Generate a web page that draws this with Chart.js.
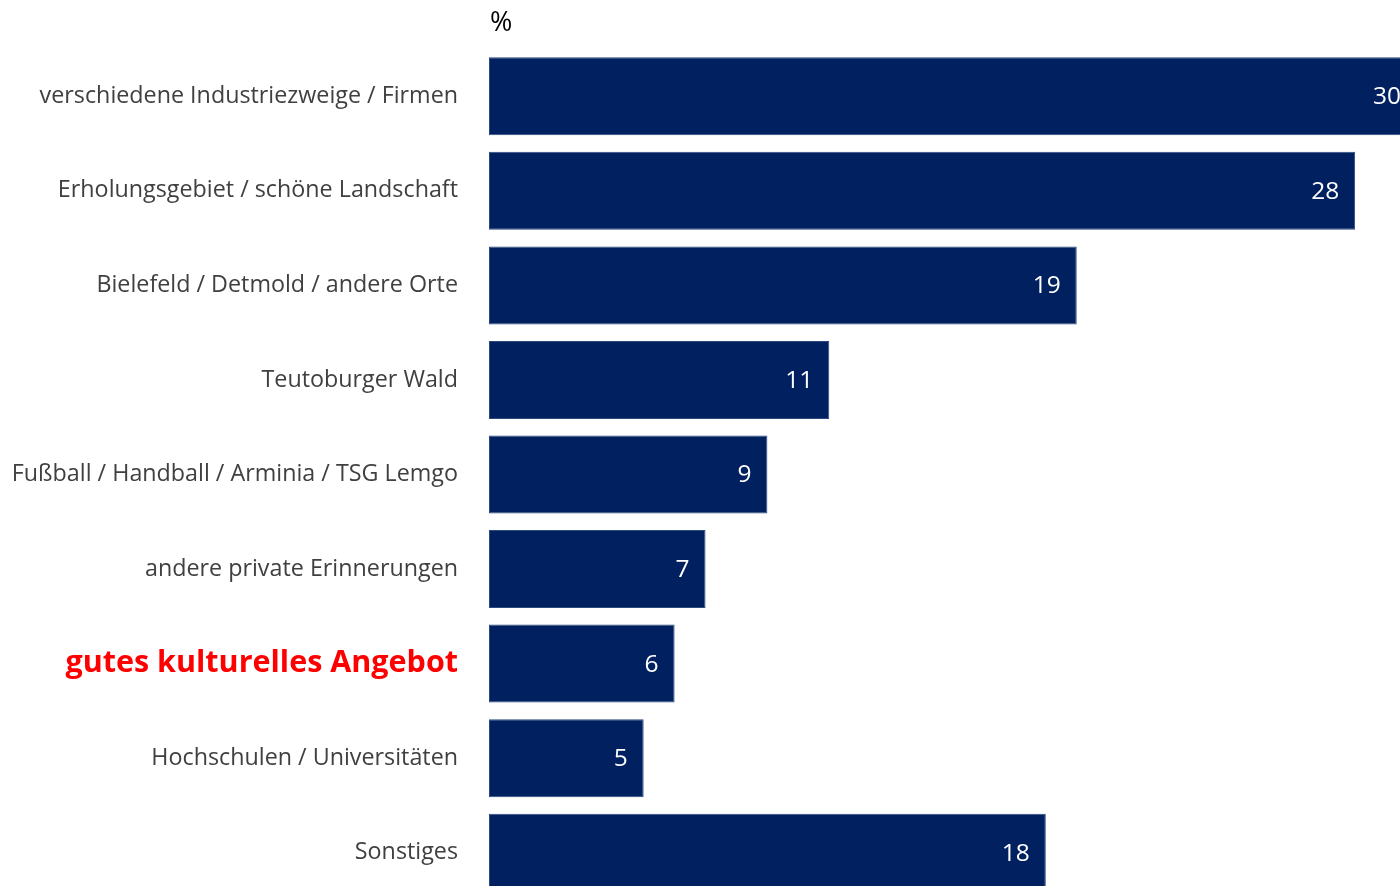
<!DOCTYPE html>
<html>
<head>
<meta charset="utf-8">
<script src="https://cdn.jsdelivr.net/npm/chart.js@4/dist/chart.umd.min.js"></script>
<style>
  html, body { margin: 0; padding: 0; background: #fff; overflow: hidden; }
  #wrap { position: absolute; left: 0; top: 0; width: 1400px; height: 900px; }
</style>
</head>
<body>
<div id="wrap"><canvas id="c" width="1400" height="900"></canvas></div>
<script>
const categories = [
  'verschiedene Industriezweige / Firmen',
  'Erholungsgebiet / schöne Landschaft',
  'Bielefeld / Detmold / andere Orte',
  'Teutoburger Wald',
  'Fußball / Handball / Arminia / TSG Lemgo',
  'andere private Erinnerungen',
  'gutes kulturelles Angebot',
  'Hochschulen / Universitäten',
  'Sonstiges'
];
const shares = [30, 28, 19, 11, 9, 7, 6, 5, 18];
const highlightIndex = 6;
const unitLabel = '%';

const FONT = '"Open Sans", "Noto Sans", sans-serif';

// value written inside the end of each bar
const valueLabels = {
  id: 'valueLabels',
  afterDatasetsDraw(chart) {
    const ctx = chart.ctx;
    const meta = chart.getDatasetMeta(0);
    ctx.save();
    ctx.fillStyle = '#ffffff';
    ctx.font = '24.5px ' + FONT;
    ctx.textAlign = 'right';
    ctx.textBaseline = 'middle';
    meta.data.forEach((bar, i) => {
      ctx.fillText(String(shares[i]), bar.x - 16, bar.y + 1);
    });
    ctx.restore();
  }
};

// unit caption above the bars
const unitTitle = {
  id: 'unitTitle',
  afterDraw(chart) {
    const ctx = chart.ctx;
    ctx.save();
    ctx.fillStyle = '#000000';
    ctx.font = '27px ' + FONT;
    ctx.textAlign = 'left';
    ctx.textBaseline = 'middle';
    ctx.fillText(unitLabel, chart.chartArea.left + 1, 23);
    ctx.restore();
  }
};

new Chart(document.getElementById('c'), {
  type: 'bar',
  data: {
    labels: categories,
    datasets: [{
      data: shares,
      backgroundColor: '#00205f',
      borderColor: '#2c4a80',
      borderWidth: 1,
      borderSkipped: false,
      barPercentage: 0.825,
      categoryPercentage: 1
    }]
  },
  options: {
    indexAxis: 'y',
    responsive: false,
    animation: false,
    layout: { padding: { top: 49, right: 0, bottom: 0, left: 0 } },
    plugins: { legend: { display: false }, tooltip: { enabled: false } },
    scales: {
      x: {
        display: false,
        min: 0,
        max: 29.45
      },
      y: {
        grid: { display: false, drawTicks: false },
        border: { display: false },
        afterFit(scale) {
          scale.width = 489;
          scale.paddingTop = 0;
          scale.paddingBottom = 0;
        },
        ticks: {
          padding: 31,
          color: (c) => c.index === highlightIndex ? '#ff0000' : '#404040',
          font: (c) => c.index === highlightIndex
            ? { family: FONT, size: 30.5, weight: 'bold' }
            : { family: FONT, size: 23.3 }
        }
      }
    }
  },
  plugins: [valueLabels, unitTitle]
});
</script>
</body>
</html>
